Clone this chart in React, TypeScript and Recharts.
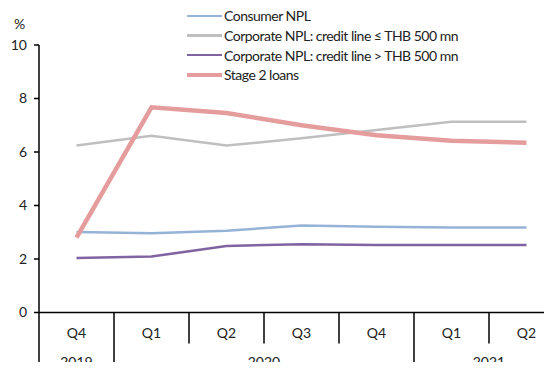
import { LineChart, Line, XAxis, YAxis } from 'recharts'

const quarters = ['Q4', 'Q1', 'Q2', 'Q3', 'Q4', 'Q1', 'Q2']
const years = ['2019', '2020', '2021']
const yearSpans = [1, 4, 2]
const yTicks = [0, 2, 4, 6, 8, 10]

const consumerNpl = [3.01, 2.96, 3.06, 3.25, 3.21, 3.18, 3.18]
const corpSmall = [6.24, 6.61, 6.24, 6.51, 6.82, 7.13, 7.13]
const corpLarge = [2.04, 2.09, 2.49, 2.55, 2.52, 2.52, 2.52]
const stage2 = [2.8, 7.67, 7.46, 7.0, 6.63, 6.42, 6.35]

const seriesNames = [
  'Consumer NPL',
  'Corporate NPL: credit line \u2264 THB 500 mn',
  'Corporate NPL: credit line > THB 500 mn',
  'Stage 2 loans',
]
const seriesColors = ['#95b3d7', '#bfbfbf', '#8064a2', '#e59c9c']
const seriesWidths = [2.5, 2.5, 2.5, 4.5]

const data = quarters.map((q, i) => ({
  id: `${q}-${i}`,
  consumer: consumerNpl[i],
  corpSmall: corpSmall[i],
  corpLarge: corpLarge[i],
  stage2: stage2[i],
}))
const keys = ['consumer', 'corpSmall', 'corpLarge', 'stage2']

const FONT = 'Lato, "Open Sans", sans-serif'
const CHART_W = 570
const CHART_H = 370
const PLOT_LEFT = 39
const PLOT_RIGHT = 6
const BAND = (CHART_W - PLOT_LEFT - PLOT_RIGHT) / quarters.length

const yearStarts = yearSpans.map((_, i) => yearSpans.slice(0, i).reduce((a, b) => a + b, 0))

const QuarterTick = ({ x, y, payload }: { x: number; y: number; payload: { index: number } }) => {
  const i = payload.index
  const left = x - BAND / 2
  const yi = yearStarts.indexOf(i)
  const isYearStart = yi >= 0
  return (
    <g>
      <line x1={left} x2={left} y1={y} y2={isYearStart ? y + 60 : y + 31} stroke="#000" strokeWidth={1.5} />
      <text x={x} y={y + 25.5} textAnchor="middle" fontSize={14} fill="#222" fontFamily={FONT}>
        {quarters[i]}
      </text>
      {isYearStart && (
        <text x={left + (yearSpans[yi] * BAND) / 2} y={y + 54.5} textAnchor="middle" fontSize={14} fill="#222" fontFamily={FONT}>
          {years[yi]}
        </text>
      )}
    </g>
  )
}

// legend drawn as an overlay so it doesn't shrink the plot
const LegendBox = () => (
  <div style={{ position: 'absolute', left: 187, top: 6, fontFamily: FONT, fontSize: 14, letterSpacing: -0.5, color: '#222' }}>
    {seriesNames.map((name, i) => (
      <div key={name} style={{ display: 'flex', alignItems: 'center', height: 19.7 }}>
        <span style={{ width: 35, height: seriesWidths[i], background: seriesColors[i], display: 'inline-block' }} />
        <span style={{ marginLeft: 2, whiteSpace: 'nowrap' }}>{name}</span>
      </div>
    ))}
  </div>
)

export default function App() {
  return (
    <div style={{ width: 552, height: 370, overflow: 'hidden', margin: -8, position: 'relative', background: '#fff' }}>
      <LineChart width={CHART_W} height={CHART_H} data={data} margin={{ top: 45, right: PLOT_RIGHT, left: 0, bottom: 0 }}>
        <XAxis
          dataKey="id"
          height={57.5}
          padding={{ left: BAND / 2, right: BAND / 2 }}
          tickSize={0}
          tickMargin={0}
          tickLine={false}
          axisLine={{ stroke: '#000', strokeWidth: 1.5 }}
          interval={0}
          tick={QuarterTick}
        />
        <YAxis
          width={PLOT_LEFT}
          domain={[0, 10]}
          ticks={yTicks}
          tickSize={5}
          tickMargin={7}
          axisLine={{ stroke: '#000', strokeWidth: 1.5 }}
          tickLine={{ stroke: '#000', strokeWidth: 1.5 }}
          tick={{ fontSize: 14, fill: '#222', fontFamily: FONT }}
          label={{ value: '%', position: 'top', offset: 16, fontSize: 14, fill: '#222', fontFamily: FONT }}
        />
        {keys.map((k, i) => (
          <Line
            key={k}
            dataKey={k}
            name={seriesNames[i]}
            stroke={seriesColors[i]}
            strokeWidth={seriesWidths[i]}
            dot={false}
            activeDot={false}
            isAnimationActive={false}
          />
        ))}
      </LineChart>
      <LegendBox />
    </div>
  )
}
